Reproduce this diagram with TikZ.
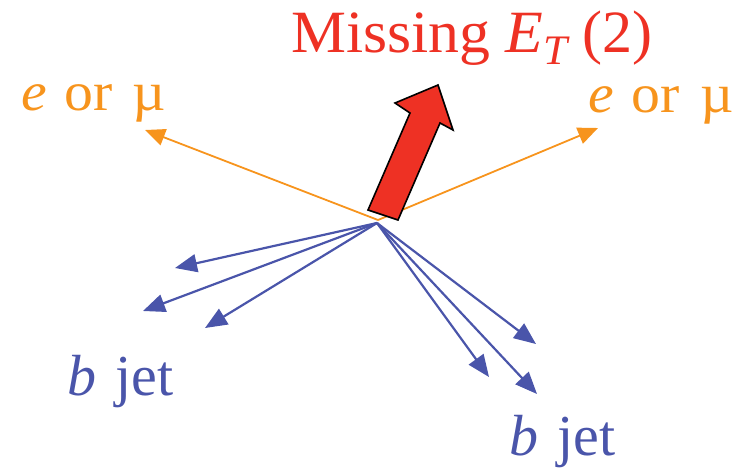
\documentclass[tikz,border=0pt]{standalone}
\usepackage{fontspec}
\setmainfont{Liberation Serif}
\usetikzlibrary{arrows.meta}
\definecolor{lepton}{HTML}{F7941D}
\definecolor{jetblue}{HTML}{4A55AA}
\definecolor{metred}{HTML}{EE3124}
\tikzset{
  lep/.style={draw=lepton, line width=1.8pt, -{Triangle[length=20pt,width=17pt]}},
  jetarrow/.style={draw=jetblue, line width=2.2pt, -{Triangle[length=22pt,width=18pt]}},
  lbl/.style={anchor=base west, inner sep=0pt},
}
\begin{document}
\begin{tikzpicture}[x=1pt,y=-1pt]
\useasboundingbox (0,0) rectangle (750,475);
% vertex
\coordinate (O) at (378,220);
\coordinate (Ob) at (377,223);
% lepton tips
\coordinate (lepL) at (145,130);
\coordinate (lepR) at (598,128);
% jet tips
\coordinate (j1) at (175,268);
\coordinate (j2) at (143,311);
\coordinate (j3) at (205,328);
\coordinate (j4) at (536,344);
\coordinate (j5) at (489,377);
\coordinate (j6) at (537,394);
\draw[lep] (O) -- (lepL);
\draw[lep] (O) -- (lepR);
\foreach \t in {j1,j2,j3,j4,j5,j6} \draw[jetarrow] (Ob) -- (\t);
% missing ET arrow
\filldraw[fill=metred, draw=black, line width=1.6pt, line join=miter]
  (368,210) -- (410,113) -- (395,103) -- (438,85) -- (453,130) -- (440,123) -- (398,220) -- cycle;
% labels
\node[lbl, text=metred, font=\fontsize{60}{66}\selectfont] (met) at (291,52)
  {\scalebox{1.03}[1]{Missing \textit{E}\raisebox{-0.2em}{\fontsize{42}{46}\selectfont\textit{T}}}\hspace{0.2em}(2)};
\node[lbl, text=lepton, font=\fontsize{55}{60}\selectfont] (eL) at (21,110)
  {\scalebox{1.05}[1]{\textit{e}\hspace{0.3em}or\hspace{0.36em}µ}};
\node[lbl, text=lepton, font=\fontsize{55}{60}\selectfont] (eR) at (588,112)
  {\scalebox{1.05}[1]{\textit{e}\hspace{0.3em}or\hspace{0.36em}µ}};
\node[lbl, text=jetblue, font=\fontsize{58}{62}\selectfont] (bL) at (67,395)
  {\textit{b}\hspace{0.33em}jet};
\node[lbl, text=jetblue, font=\fontsize{58}{62}\selectfont] (bR) at (509,455)
  {\textit{b}\hspace{0.33em}jet};
\end{tikzpicture}
\end{document}
